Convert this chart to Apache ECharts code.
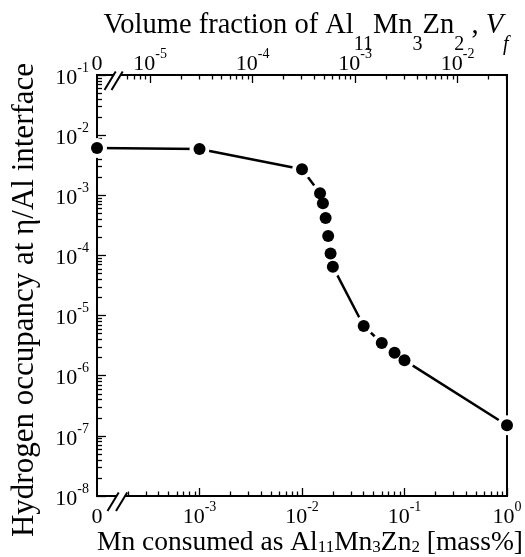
<!DOCTYPE html>
<html><head><meta charset="utf-8">
<script src="https://cdn.jsdelivr.net/npm/echarts@6/dist/echarts.min.js"></script>
<style>html,body{margin:0;padding:0;background:#fff}#c{width:525px;height:557px}</style>
</head><body><div id="c"></div>
<script>
// ---------------- data ----------------
// Mn consumed as Al11Mn3Zn2 [mass%] (0 is drawn at the broken-axis origin)
const mnConsumed = [0, 0.001, 0.01, 0.015, 0.016, 0.017, 0.018, 0.019, 0.020, 0.040, 0.060, 0.080, 0.10, 1.0];
// Hydrogen occupancy at eta/Al interface
const hOccupancy = [6.1e-3, 5.9e-3, 2.7e-3, 1.08e-3, 7.4e-4, 4.2e-4, 2.1e-4, 1.08e-4, 6.5e-5, 6.7e-6, 3.5e-6, 2.4e-6, 1.8e-6, 1.5e-7];
// major tick values
const mnTicks = [1e-3, 1e-2, 1e-1, 1];
const vfTicks = [1e-5, 1e-4, 1e-3, 1e-2];
const hTicks = [1e-8, 1e-7, 1e-6, 1e-5, 1e-4, 1e-3, 1e-2, 1e-1];
// axis constants
const mnZero = 1e-4;                  // where "0" sits on the broken bottom axis
const vfPerMn = Math.pow(10, -1.518); // Vf = vfPerMn * Mn(mass%)
const vfZero = mnZero * vfPerMn;

// ---------------- layout / style ----------------
const FONT = '"Liberation Serif", "Times New Roman", serif';
const W = 525, H = 557;
const G = {left: 97, right: 18, top: 75, bottom: 61};
const plotBottom = H - G.bottom;

function minors(loExp, hiExp, from, to) {
  const out = [];
  for (let e = loExp; e < hiExp; e++) for (let k = 2; k <= 9; k++) {
    const v = k * Math.pow(10, e);
    if (v >= from && v <= to) out.push(v);
  }
  return out;
}
function powLabel(v) {
  const e = Math.round(Math.log10(v));
  return '{b|10}{s|' + e + '}';
}
const tickRich = {
  b: {fontFamily: FONT, fontSize: 22, lineHeight: 28, verticalAlign: 'bottom', color: '#000'},
  s: {fontFamily: FONT, fontSize: 14, lineHeight: 14, verticalAlign: 'top', color: '#000'}
};
const tickLine = {color: '#000', width: 1.3};

function majorX(pos, mn, mx, ticks, zero, margin) {
  return {
    type: 'log', logBase: 10, min: mn, max: mx, position: pos, gridIndex: 0,
    axisLine: {show: false}, splitLine: {show: false},
    axisTick: {show: true, inside: true, length: 8, lineStyle: tickLine, customValues: ticks},
    axisLabel: {
      show: true, margin: margin, customValues: [zero * 1.000001].concat(ticks), rich: tickRich,
      formatter: v => (v < zero * 1.05 ? '{b|0}' : powLabel(v))
    }
  };
}
function minorX(pos, mn, mx, ticks) {
  return {
    type: 'log', logBase: 10, min: mn, max: mx, position: pos, gridIndex: 1,
    axisLine: {show: false}, splitLine: {show: false}, axisLabel: {show: false},
    axisTick: {show: true, inside: true, length: 4.5, lineStyle: tickLine, customValues: ticks}
  };
}

const pts = mnConsumed.map((m, i) => [m === 0 ? mnZero : m, hOccupancy[i]]);

const chart = echarts.init(document.getElementById('c'), null, {renderer: 'canvas', width: W, height: H});

const titleTop = {fontFamily: FONT, fontSize: 28.5, lineHeight: 28.5, verticalAlign: 'top', fill: '#000'};
const subTop = {fontFamily: FONT, fontSize: 20, lineHeight: 44, verticalAlign: 'bottom', fill: '#000'};
const titleBot = {fontFamily: FONT, fontSize: 27.5, lineHeight: 27.5, verticalAlign: 'top', fill: '#000'};
const subBot = {fontFamily: FONT, fontSize: 17, lineHeight: 27.5, verticalAlign: 'bottom', fill: '#000'};

function breakMarks(axisY, cx1, cx2, coverDown) {
  const els = [{
    type: 'rect', z: 100, silent: true,
    shape: {x: cx1, y: axisY - 2, width: cx2 - cx1, height: 2 + coverDown},
    style: {fill: '#fff', stroke: null}
  }];
  [cx1, cx2].forEach(cx => els.push({
    type: 'line', z: 101, silent: true,
    shape: {x1: cx + 2.2, y1: axisY - 3.5, x2: cx - 9, y2: axisY + 15},
    style: {stroke: '#000', lineWidth: 2}
  }));
  return els;
}

chart.setOption({
  animation: false,
  backgroundColor: '#fff',
  grid: [
    {left: G.left, right: G.right, top: G.top, bottom: G.bottom, show: true, borderColor: '#000', borderWidth: 2, backgroundColor: 'transparent', containLabel: false},
    {left: G.left, right: G.right, top: G.top, bottom: G.bottom, show: false, containLabel: false}
  ],
  xAxis: [
    majorX('bottom', mnZero, 1, mnTicks, mnZero, 4),
    majorX('top', vfZero, vfPerMn, vfTicks, vfZero, 0),
    minorX('bottom', mnZero, 1, minors(-4, 0, 1.9e-4, 1)),
    minorX('top', vfZero, vfPerMn, minors(-6, -1, 4.9e-6, vfPerMn))
  ],
  yAxis: [
    {
      type: 'log', logBase: 10, min: 1e-8, max: 1e-1, position: 'left', gridIndex: 0,
      axisLine: {show: false}, splitLine: {show: false},
      axisTick: {show: true, inside: true, length: 9, lineStyle: tickLine, customValues: hTicks},
      axisLabel: {show: true, margin: 8, customValues: hTicks, rich: tickRich, formatter: powLabel}
    },
    {
      type: 'log', logBase: 10, min: 1e-8, max: 1e-1, position: 'left', gridIndex: 1,
      axisLine: {show: false}, splitLine: {show: false}, axisLabel: {show: false},
      axisTick: {show: true, inside: true, length: 5, lineStyle: tickLine, customValues: minors(-8, -1, 1e-8, 1e-1)}
    }
  ],
  series: [
    {type: 'line', xAxisIndex: 0, yAxisIndex: 0, data: pts, symbol: 'none', clip: false, silent: true,
     lineStyle: {color: '#000', width: 2.5}, z: 2},
    {type: 'scatter', xAxisIndex: 0, yAxisIndex: 0, data: pts, symbol: 'circle', symbolSize: 20, clip: false, silent: true,
     itemStyle: {color: '#fff', opacity: 1}, z: 3},
    {type: 'scatter', xAxisIndex: 0, yAxisIndex: 0, data: pts, symbol: 'circle', symbolSize: 12, clip: false, silent: true,
     itemStyle: {color: '#000', opacity: 1}, z: 4}
  ],
  graphic: [
    ...breakMarks(plotBottom, 116.5, 125, 2),
    ...breakMarks(G.top, 113.5, 120.5, 7),
    {
      type: 'text', z: 100, x: 306, y: 11, silent: true,
      style: {
        text: '{m|Volume fraction of Al}{s|11}{m|Mn}{s|3}{m|Zn}{s|2}{m| , }{i|V}{is|f}',
        align: 'center', verticalAlign: 'top', fill: '#000', fontFamily: FONT, fontSize: 28.5,
        rich: {m: titleTop, s: subTop,
               i: Object.assign({}, titleTop, {fontStyle: 'italic'}),
               is: Object.assign({}, subTop, {fontStyle: 'italic'})}
      }
    },
    {
      type: 'text', z: 100, x: 310, y: 529, silent: true,
      style: {
        text: '{m|Mn consumed as Al}{s|11}{m|Mn}{s|3}{m|Zn}{s|2}{m| [mass%]}',
        align: 'center', verticalAlign: 'top', fill: '#000', fontFamily: FONT, fontSize: 27.5,
        rich: {m: titleBot, s: subBot}
      }
    },
    {
      type: 'text', z: 100, x: 25, y: 300, rotation: Math.PI / 2, silent: true,
      style: {
        text: 'Hydrogen occupancy at η/Al interface',
        align: 'center', verticalAlign: 'middle', fill: '#000', fontFamily: FONT, fontSize: 31
      }
    }
  ]
});
</script>
</body></html>
